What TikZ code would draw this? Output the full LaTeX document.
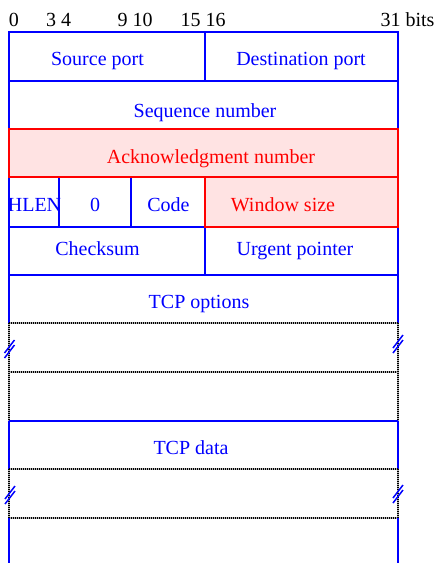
\documentclass[tikz,border=0pt]{standalone}
\usepackage{fontspec}
\setmainfont{Liberation Serif}
\begin{document}
\begin{tikzpicture}[x=1pt,y=-1pt,
  field/.style={line width=2pt, draw=blue},
  hot/.style={line width=2pt, draw=red, fill=red!11},
  gap/.style={line width=2pt, draw=black, dash pattern=on 1pt off 1pt,
    preaction={draw=black!30, line width=2pt, solid}},
  lbl/.style={font=\fontsize{20}{24}\selectfont, text=blue, anchor=base, inner sep=0pt},
  hotlbl/.style={lbl, text=red},
  bitlbl/.style={font=\fontsize{20}{24}\selectfont, anchor=base, inner sep=0pt},
  brk/.style={draw=blue, line width=1.5pt}]
\useasboundingbox (0,0) rectangle (438,563);

% bit numbering
\node[bitlbl] (b0)  at (14,26)    {0};
\node[bitlbl] (b34) at (58.5,26)  {3 4};
\node[bitlbl] (b910) at (135,26)  {9 10};
\node[bitlbl] (b1516) at (203,26) {15 16};
\node[bitlbl] (b31) at (407.5,26) {31 bits};

% header words
\draw[field] (9,323) -- (9,32) -- (398,32) -- (398,323);
\foreach \yy in {80.5,129,177,226.5,274.5}
  \draw[field] (9,\yy) -- (398,\yy);
\draw[field] (205,32) -- (205,80.5);
\draw[field] (205,177) -- (205,274.5);
\draw[field] (59,177) -- (59,226.5);
\draw[field] (131,177) -- (131,226.5);

% highlighted fields
\draw[hot] (9,129) rectangle (398,177);
\draw[hot] (205,177) rectangle (398,226.5);

% elided option words
\draw[gap] (9,323) -- (398,323);
\draw[gap] (9,372) -- (398,372);
\draw[gap] (9,323) -- (9,420.5);
\draw[gap] (398,323) -- (398,420.5);

% data area
\draw[field] (9,420.5) -- (398,420.5);
\draw[field] (9,420.5) -- (9,469);
\draw[field] (398,420.5) -- (398,469);
\draw[gap] (9,469) -- (398,469);
\draw[gap] (9,517.5) -- (398,517.5);
\draw[gap] (9,469) -- (9,517.5);
\draw[gap] (398,469) -- (398,517.5);
\draw[field] (9,517.5) -- (9,563);
\draw[field] (398,517.5) -- (398,563);

% break marks
\foreach \cx/\cy in {9.5/348, 398/343, 10/494, 398/493} {
  \draw[brk] (\cx-5,\cy+5) -- (\cx+5,\cy-8);
  \draw[brk] (\cx-5,\cy+10) -- (\cx+5,\cy-3);
}

% field names
\node[lbl] (src) at (97.5,65) {Source port};
\node[lbl] (dst) at (301,65) {Destination port};
\node[lbl] (seq) at (205,117) {Sequence number};
\node[hotlbl] (ack) at (211,163) {Acknowledgment number};
\node[lbl] (hlen) at (34.5,211) {HLEN};
\node[lbl] (rsv) at (95,211) {0};
\node[lbl] (code) at (168.5,211) {Code};
\node[hotlbl] (win) at (283,211) {Window size};
\node[lbl] (chk) at (97.5,255.5) {Checksum};
\node[lbl] (urg) at (295,255.5) {Urgent pointer};
\node[lbl] (opt) at (199,308) {TCP options};
\node[lbl] (data) at (191,454) {TCP data};
\end{tikzpicture}
\end{document}
